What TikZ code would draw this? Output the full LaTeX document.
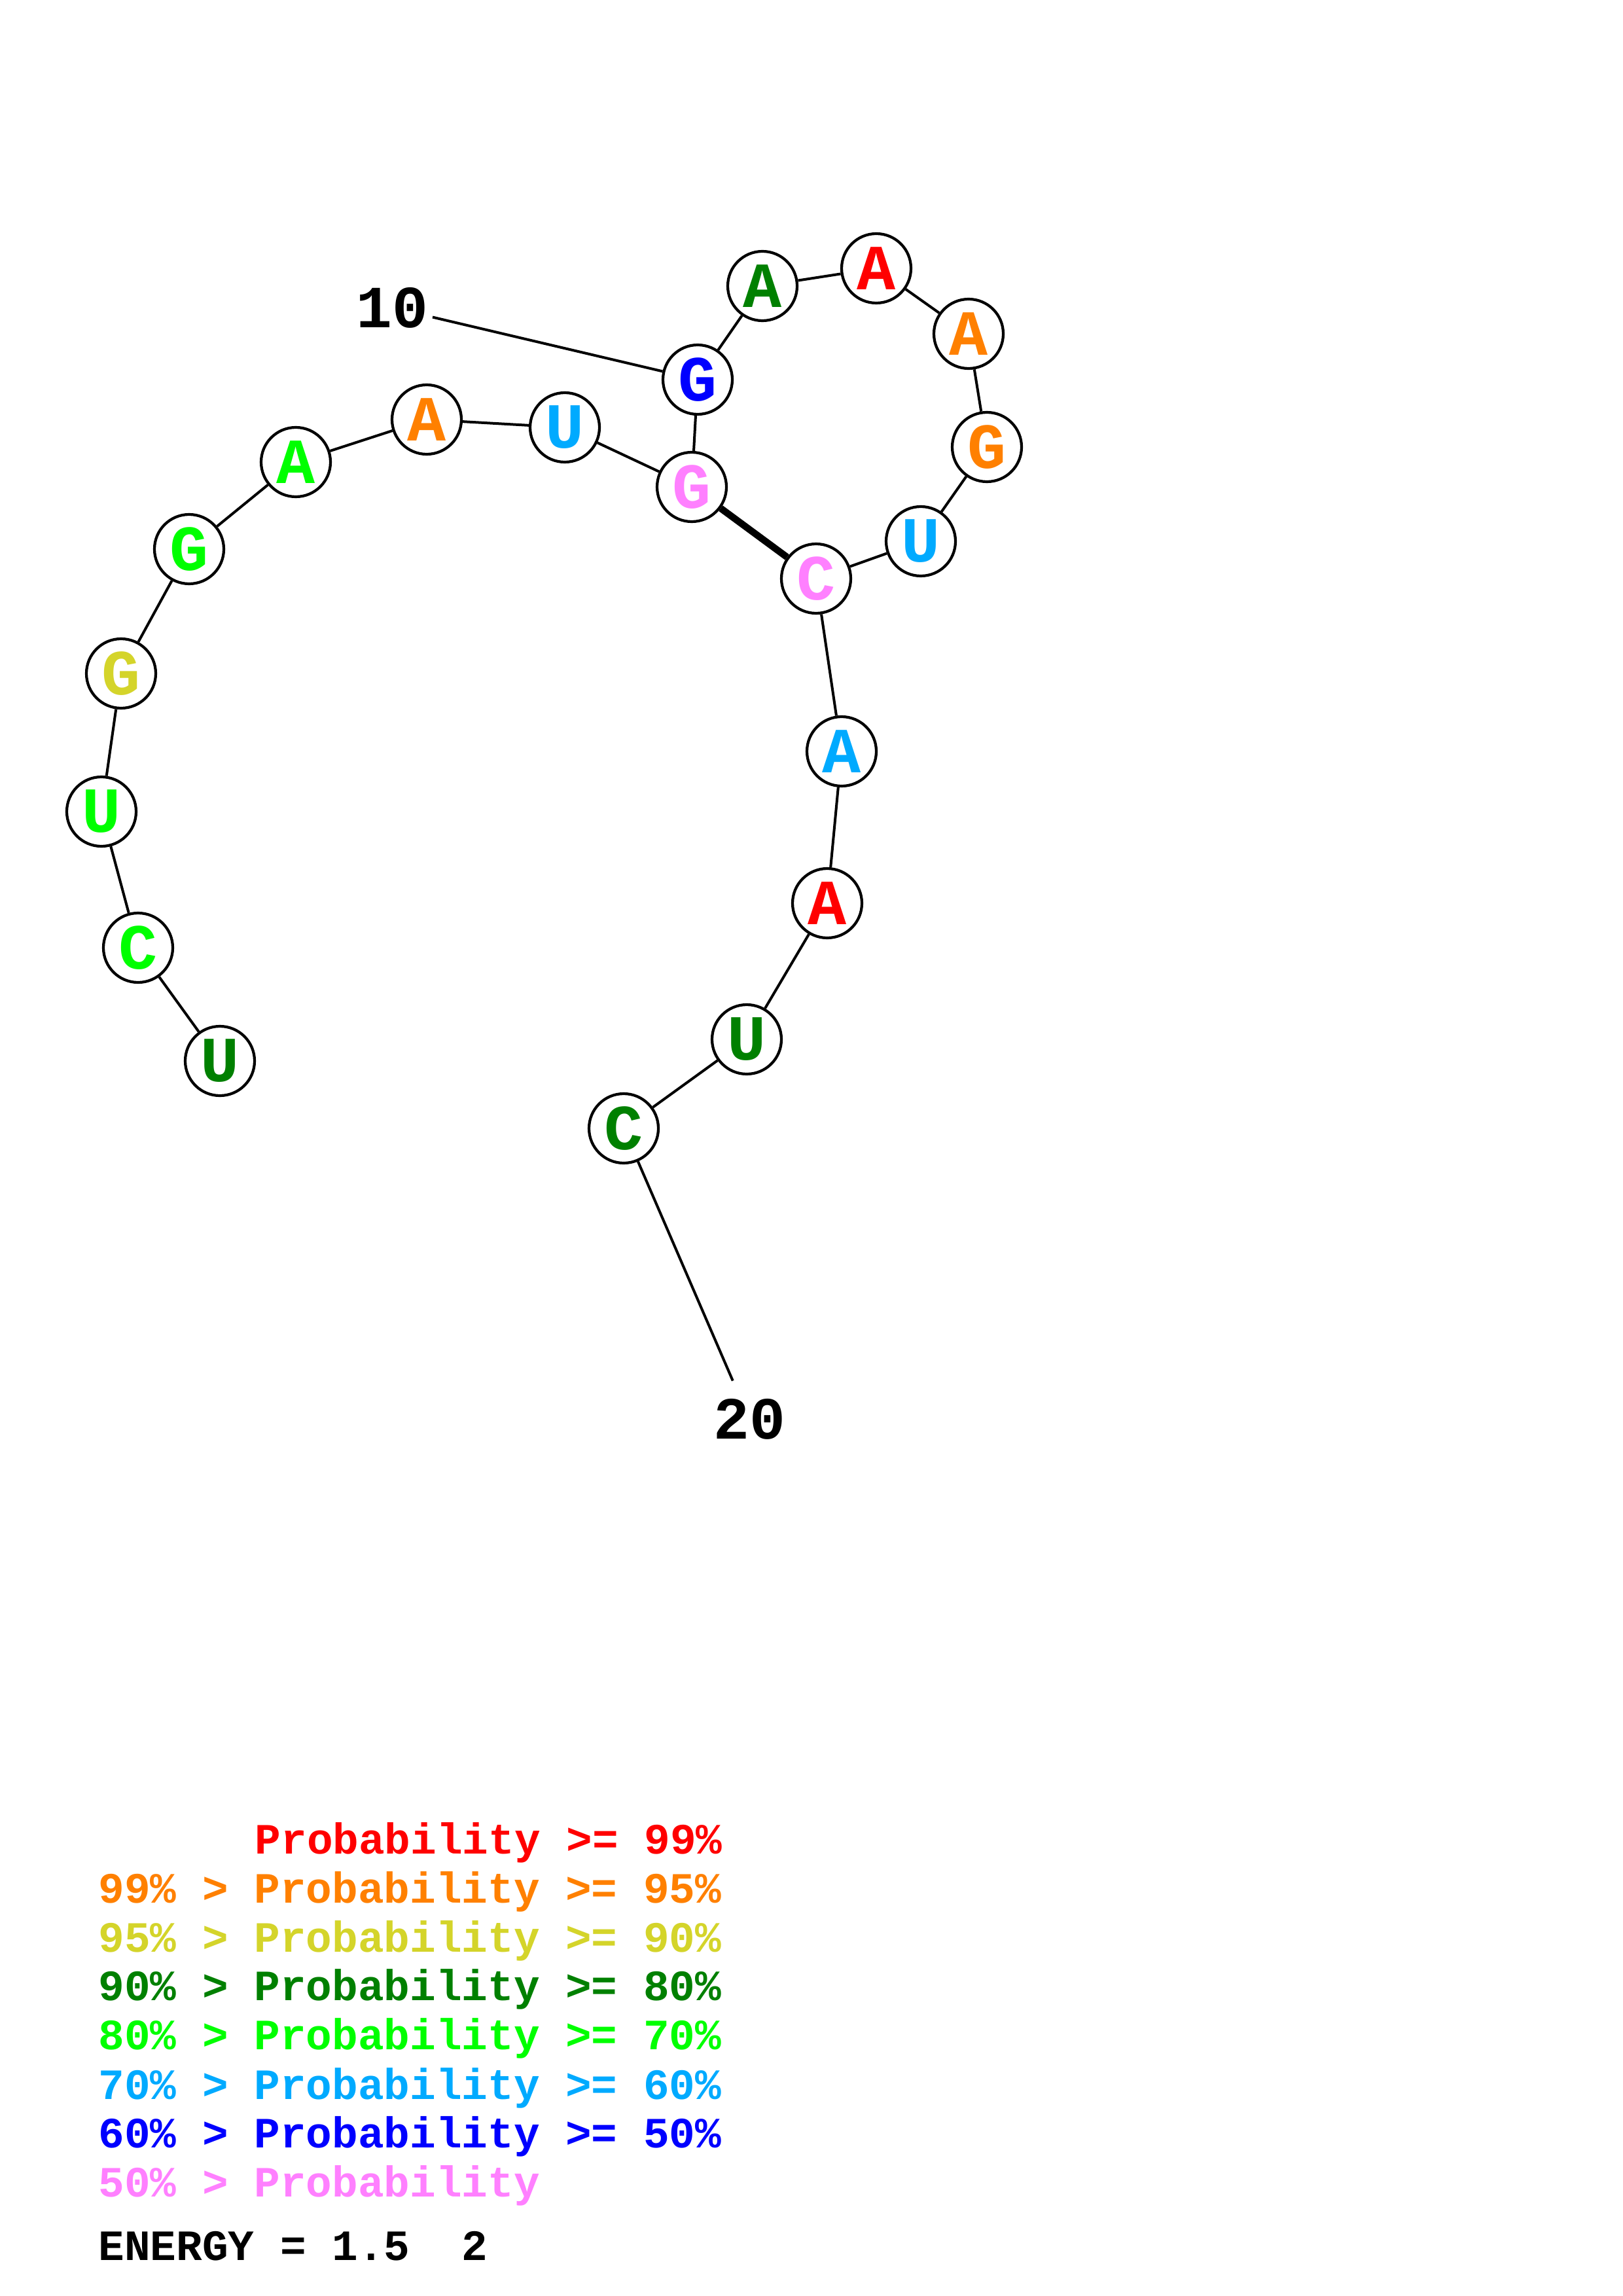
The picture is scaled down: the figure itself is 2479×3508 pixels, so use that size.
\documentclass[tikz,border=0pt]{standalone}
\usepackage{fontspec}
\setmonofont{Liberation Mono}
\definecolor{pred}{RGB}{255,0,0}
\definecolor{porange}{RGB}{255,128,0}
\definecolor{pyellow}{RGB}{212,212,42}
\definecolor{pdkgreen}{RGB}{0,128,0}
\definecolor{pgreen}{RGB}{0,255,0}
\definecolor{pcyan}{RGB}{0,170,255}
\definecolor{pblue}{RGB}{0,0,255}
\definecolor{ppink}{RGB}{255,128,255}
\begin{document}
\begin{tikzpicture}[x=0.1mm,y=-0.1mm,
  base/.style={circle,draw=black,fill=white,line width=0.42mm,minimum size=10.6mm,inner sep=0pt,
    font=\ttfamily\bfseries\fontsize{28}{28}\selectfont},
  bb/.style={line width=0.4mm},
  pair/.style={line width=1.05mm},
  numlab/.style={circle,inner sep=0pt,font=\ttfamily\bfseries\fontsize{26}{26}\selectfont},
  leg/.style={anchor=base west,inner sep=0pt,font=\ttfamily\bfseries\fontsize{18.8}{18.8}\selectfont}]
\fill[white] (0,0) rectangle (2479,3508);
% bases
\node[base,text=pdkgreen] (n1) at (336,1621) {U};
\node[base,text=pgreen] (n2) at (211,1448) {C};
\node[base,text=pgreen] (n3) at (155,1240) {U};
\node[base,text=pyellow] (n4) at (185,1029) {G};
\node[base,text=pgreen] (n5) at (289,839) {G};
\node[base,text=pgreen] (n6) at (452,706) {A};
\node[base,text=porange] (n7) at (652,641) {A};
\node[base,text=pcyan] (n8) at (863,653) {U};
\node[base,text=ppink] (n9) at (1057,744) {G};
\node[base,text=pblue] (n10) at (1066,580) {G};
\node[base,text=pdkgreen] (n11) at (1165,437) {A};
\node[base,text=pred] (n12) at (1339,410) {A};
\node[base,text=porange] (n13) at (1480,510) {A};
\node[base,text=porange] (n14) at (1508,683) {G};
\node[base,text=pcyan] (n15) at (1407,827) {U};
\node[base,text=ppink] (n16) at (1247,884) {C};
\node[base,text=pcyan] (n17) at (1286,1148) {A};
\node[base,text=pred] (n18) at (1264,1380) {A};
\node[base,text=pdkgreen] (n19) at (1141,1588) {U};
\node[base,text=pdkgreen] (n20) at (953,1724) {C};
% number labels
\node[numlab] (l10) at (599,470) {10};
\node[numlab] (l20) at (1145,2168) {20};
% backbone
\draw[bb] (n1)--(n2);
\draw[bb] (n2)--(n3);
\draw[bb] (n3)--(n4);
\draw[bb] (n4)--(n5);
\draw[bb] (n5)--(n6);
\draw[bb] (n6)--(n7);
\draw[bb] (n7)--(n8);
\draw[bb] (n8)--(n9);
\draw[bb] (n9)--(n10);
\draw[bb] (n10)--(n11);
\draw[bb] (n11)--(n12);
\draw[bb] (n12)--(n13);
\draw[bb] (n13)--(n14);
\draw[bb] (n14)--(n15);
\draw[bb] (n15)--(n16);
\draw[bb] (n16)--(n17);
\draw[bb] (n17)--(n18);
\draw[bb] (n18)--(n19);
\draw[bb] (n19)--(n20);
\draw[pair] (n9)--(n16);
\draw[bb] (l10)--(n10);
\draw[bb] (l20)--(n20);
% legend
\node[leg,text=pred] (g1) at (389,2832) {Probability >= 99\%};
\node[leg,text=porange] (g2) at (150,2907) {99\% > Probability >= 95\%};
\node[leg,text=pyellow] (g3) at (150,2982) {95\% > Probability >= 90\%};
\node[leg,text=pdkgreen] (g4) at (150,3056) {90\% > Probability >= 80\%};
\node[leg,text=pgreen] (g5) at (150,3131) {80\% > Probability >= 70\%};
\node[leg,text=pcyan] (g6) at (150,3207) {70\% > Probability >= 60\%};
\node[leg,text=pblue] (g7) at (150,3281) {60\% > Probability >= 50\%};
\node[leg,text=ppink] (g8) at (150,3356) {50\% > Probability};
\node[leg,text=black] (en) at (150,3453) {ENERGY = 1.5\ \ 2};
\end{tikzpicture}
\end{document}
